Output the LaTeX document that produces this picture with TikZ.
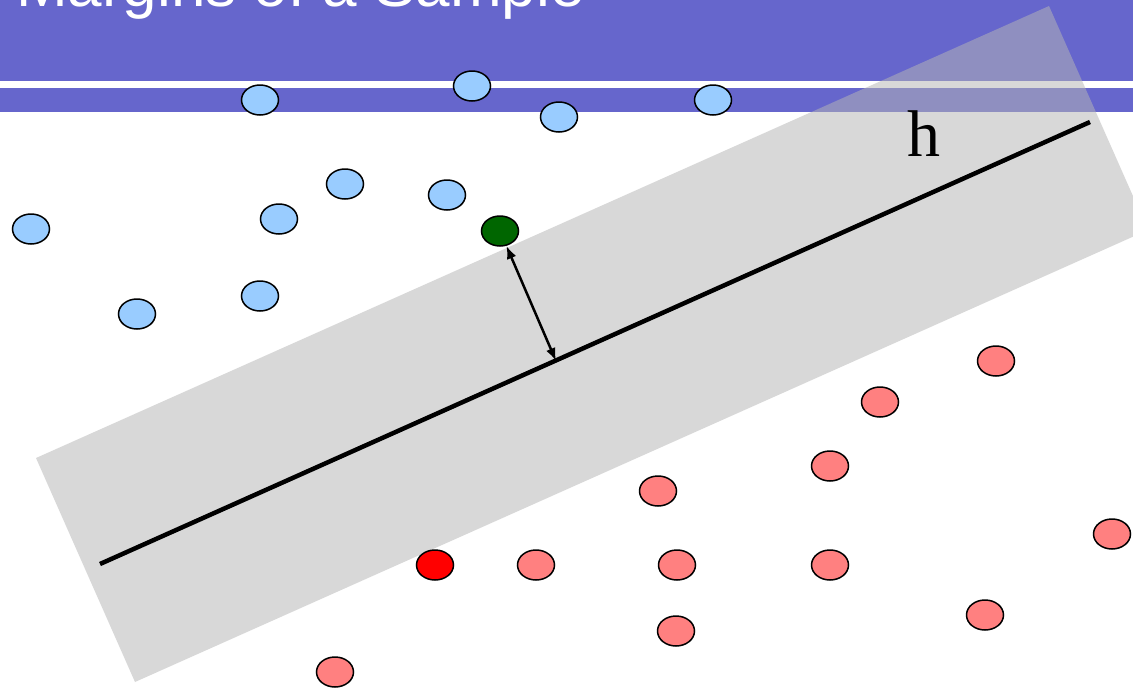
\documentclass[tikz,border=0pt]{standalone}
\usepackage{fontspec}
\setmainfont{Liberation Serif}
\newfontfamily\titlefont{Liberation Sans}
\usetikzlibrary{shapes.geometric,arrows.meta}
\definecolor{banner}{RGB}{102,102,204}
\definecolor{bandgray}{RGB}{181,181,181}
\definecolor{bluept}{RGB}{153,204,255}
\definecolor{redpt}{RGB}{255,128,128}
\definecolor{redsv}{RGB}{255,0,0}
\definecolor{greensv}{RGB}{0,102,0}
\tikzset{
  pt/.style={ellipse, draw=black, line width=1.5pt, inner sep=0pt,
             minimum width=37pt, minimum height=30pt},
  bpt/.style={pt, fill=bluept},
  rpt/.style={pt, fill=redpt},
  rsv/.style={pt, fill=redsv},
  gsv/.style={pt, fill=greensv},
  hyper/.style={line width=4.5pt, black},
  marginarrow/.style={line width=2.5pt, black, {Latex[length=13pt,width=10pt]}-{Latex[length=13pt,width=10pt]}},
  band/.style={fill=bandgray, opacity=0.52}
}
\begin{document}
\begin{tikzpicture}[x=1pt,y=-1pt]
\useasboundingbox (0,0) rectangle (1133,691);
\clip (0,0) rectangle (1133,691);
% banner
\fill[banner] (0,0) rectangle (1133,112);
\fill[white] (0,81) rectangle (1133,88);
\node[anchor=base west, inner sep=0pt, text=white, font=\titlefont\fontsize{62}{62}\selectfont] (title) at (16,6) {Margins of a Sample};
% margin band
\fill[band] (36,458) -- (1049,6) -- (1148,230) -- (135,682) -- cycle;
% hyperplane
\coordinate (h1) at (100,564);
\coordinate (h2) at (1090,122);
\draw[hyper] (h1) -- (h2);
\node[anchor=base west, inner sep=0pt, font=\fontsize{66}{66}\selectfont] (hlabel) at (907,156) {h};
% blue points
\node[bpt] (b1) at (260,100) {};
\node[bpt] (b2) at (472,86) {};
\node[bpt] (b3) at (559,117) {};
\node[bpt] (b4) at (713,100) {};
\node[bpt] (b5) at (345,184) {};
\node[bpt] (b6) at (447,195) {};
\node[bpt] (b7) at (279,219) {};
\node[bpt] (b8) at (31,229) {};
\node[bpt] (b9) at (260,296) {};
\node[bpt] (b10) at (137,314) {};
\node[gsv] (g) at (500,231) {};
% red points
\node[rpt] (r1) at (996,361) {};
\node[rpt] (r2) at (880,402) {};
\node[rpt] (r3) at (830,466) {};
\node[rpt] (r4) at (658,491) {};
\node[rpt] (r5) at (536,565) {};
\node[rpt] (r6) at (677,565) {};
\node[rpt] (r7) at (830,565) {};
\node[rpt] (r8) at (1112,534) {};
\node[rpt] (r9) at (985,615) {};
\node[rpt] (r10) at (676,631) {};
\node[rpt] (r11) at (335,672) {};
\node[rsv] (rs) at (435,565) {};
% margin arrow
\coordinate (foot) at (556,361);
\draw[marginarrow] (g) -- (foot);
\end{tikzpicture}
\end{document}
